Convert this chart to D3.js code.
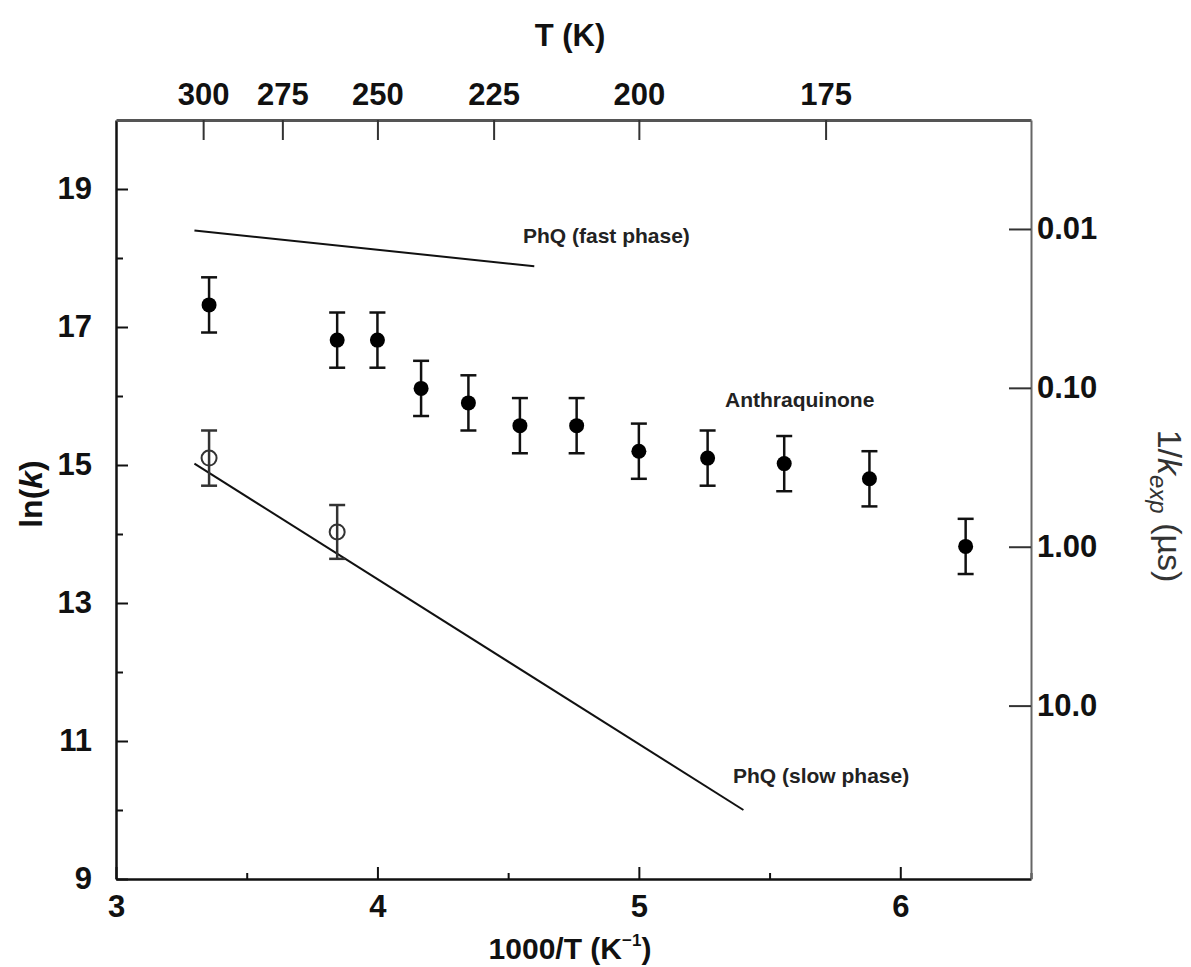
<!DOCTYPE html>
<html>
<head>
<meta charset="utf-8">
<script src="https://cdn.jsdelivr.net/npm/d3@7/dist/d3.min.js"></script>
<style>
  body { margin: 0; background: #fff; }
  svg { font-family: "Liberation Sans", Arial, Helvetica, sans-serif; }
</style>
</head>
<body>
<div id="grafico"></div>
<script>
// Datos
// Antraquinona (círculos rellenos)
const antraX = [3.356, 3.846, 4.0, 4.167, 4.348, 4.545, 4.762, 5.0, 5.263, 5.556, 5.882, 6.25];
const antraY = [17.32, 16.81, 16.81, 16.11, 15.9, 15.57, 15.57, 15.2, 15.1, 15.02, 14.8, 13.82];
const antraErr = [0.4, 0.4, 0.4, 0.4, 0.4, 0.4, 0.4, 0.4, 0.4, 0.4, 0.4, 0.4];

// PhQ (círculos abiertos)
const phqX = [3.356, 3.846];
const phqY = [15.1, 14.03];
const phqErr = [0.4, 0.39];

// Rectas de ajuste de PhQ
const rapidaX = [3.3, 4.6];
const rapidaY = [18.4, 17.88];
const lentaX = [3.3, 5.4];
const lentaY = [15.02, 10.0];

// Marcas de los ejes
const ticksInferior = [3, 4, 5, 6];
const ticksInferiorMenor = [3.5, 4.5, 5.5, 6.5];
const ticksIzq = [9, 11, 13, 15, 17, 19];
const ticksIzqMenor = [10, 12, 14, 16, 18];
const ticksT = [300, 275, 250, 225, 200, 175];
const ticksTau = [0.01, 0.1, 1, 10];
const etiquetasTau = ["0.01", "0.10", "1.00", "10.0"];

const ancho = 1191, alto = 967;
const margen = { izq: 116, der: 1031, sup: 120, inf: 879 };

const svg = d3.select("#grafico").append("svg")
  .attr("width", ancho)
  .attr("height", alto);

const x = d3.scaleLinear().domain([3, 6.5]).range([margen.izq, margen.der]);
const y = d3.scaleLinear().domain([9, 20]).range([margen.inf, margen.sup]);
// eje derecho: 1/k en µs, ln(k) = ln(1e6 / tau)
const tau = d3.scaleLog()
  .domain([1e6 / Math.exp(9), 1e6 / Math.exp(20)])
  .range([margen.inf, margen.sup]);

function estiloEje(g, tam, grosor, color) {
  g.select(".domain").attr("stroke", color).attr("stroke-width", grosor);
  g.selectAll(".tick line").attr("stroke", color).attr("stroke-width", 2);
  g.selectAll(".tick text")
    .attr("font-size", tam)
    .attr("font-weight", "bold")
    .attr("fill", "#111");
}

// Eje inferior
const gInf = svg.append("g")
  .attr("transform", `translate(0,${margen.inf})`)
  .call(d3.axisBottom(x).tickValues(ticksInferior).tickFormat(d3.format("d"))
    .tickSizeInner(-12).tickSizeOuter(0).tickPadding(16));
estiloEje(gInf, 31, 2.5, "#111");

svg.append("g")
  .attr("transform", `translate(0,${margen.inf})`)
  .call(d3.axisBottom(x).tickValues(ticksInferiorMenor).tickFormat("")
    .tickSizeInner(-6).tickSizeOuter(0))
  .call(g => g.select(".domain").remove())
  .call(g => g.selectAll(".tick line").attr("stroke", "#111").attr("stroke-width", 2));

// Eje izquierdo
const gIzq = svg.append("g")
  .attr("transform", `translate(${margen.izq},0)`)
  .call(d3.axisLeft(y).tickValues(ticksIzq).tickFormat(d3.format("d"))
    .tickSizeInner(-12).tickSizeOuter(0).tickPadding(24));
estiloEje(gIzq, 31, 2.5, "#111");

svg.append("g")
  .attr("transform", `translate(${margen.izq},0)`)
  .call(d3.axisLeft(y).tickValues(ticksIzqMenor).tickFormat("")
    .tickSizeInner(-7).tickSizeOuter(0))
  .call(g => g.select(".domain").remove())
  .call(g => g.selectAll(".tick line").attr("stroke", "#111").attr("stroke-width", 2));

// Eje superior (temperatura)
const gSup = svg.append("g")
  .attr("transform", `translate(0,${margen.sup})`)
  .call(d3.axisTop(x).tickValues(ticksT.map(t => 1000 / t))
    .tickFormat(d => Math.round(1000 / d))
    .tickSizeInner(-20).tickSizeOuter(0).tickPadding(15));
estiloEje(gSup, 31, 3, "#555");
gSup.selectAll(".tick line").attr("stroke", "#333");

// Eje derecho (1/k)
const gDer = svg.append("g")
  .attr("transform", `translate(${margen.der},0)`)
  .call(d3.axisRight(tau).tickValues(ticksTau)
    .tickFormat((d, i) => etiquetasTau[i])
    .tickSizeInner(-22).tickSizeOuter(0).tickPadding(6));
estiloEje(gDer, 31, 2, "#666");
gDer.selectAll(".tick line").attr("stroke", "#333");

// Títulos de los ejes
svg.append("text")
  .attr("x", 570).attr("y", 46)
  .attr("text-anchor", "middle")
  .attr("font-size", 31).attr("font-weight", "bold").attr("fill", "#111")
  .text("T (K)");

const tituloX = svg.append("text")
  .attr("x", 570).attr("y", 959)
  .attr("text-anchor", "middle")
  .attr("font-size", 30).attr("font-weight", "bold").attr("fill", "#111");
tituloX.append("tspan").text("1000/T (K");
tituloX.append("tspan").attr("font-size", 17).attr("dy", -13).text("−1");
tituloX.append("tspan").attr("dy", 13).text(")");

const tituloIzq = svg.append("text")
  .attr("transform", "translate(42,494) rotate(-90)")
  .attr("text-anchor", "middle")
  .attr("font-size", 32).attr("font-weight", "bold").attr("fill", "#111");
tituloIzq.append("tspan").text("ln(");
tituloIzq.append("tspan").attr("font-style", "italic").text("k");
tituloIzq.append("tspan").text(")");

const tituloDer = svg.append("text")
  .attr("transform", "translate(1158,506) rotate(90)")
  .attr("text-anchor", "middle")
  .attr("font-size", 34).attr("fill", "#333");
tituloDer.append("tspan").text("1/");
tituloDer.append("tspan").attr("font-style", "italic").text("k");
tituloDer.append("tspan").attr("font-style", "italic").attr("font-size", 24).attr("dy", 8).text("exp");
tituloDer.append("tspan").attr("dy", -8).text(" (µs)");

// Rectas de PhQ
const linea = d3.line().x(d => x(d[0])).y(d => y(d[1]));
svg.append("path")
  .datum(d3.zip(rapidaX, rapidaY))
  .attr("d", linea)
  .attr("fill", "none").attr("stroke", "#111").attr("stroke-width", 2);
svg.append("path")
  .datum(d3.zip(lentaX, lentaY))
  .attr("d", linea)
  .attr("fill", "none").attr("stroke", "#111").attr("stroke-width", 2);

// Barras de error
function dibujarErrores(xs, ys, errs, color) {
  const g = svg.append("g").attr("stroke", color).attr("stroke-width", 2.5);
  xs.forEach((v, i) => {
    const cx = x(v);
    const y1 = y(ys[i] + errs[i]);
    const y2 = y(ys[i] - errs[i]);
    g.append("line").attr("x1", cx).attr("x2", cx).attr("y1", y1).attr("y2", y2);
    g.append("line").attr("x1", cx - 8).attr("x2", cx + 8).attr("y1", y1).attr("y2", y1);
    g.append("line").attr("x1", cx - 8).attr("x2", cx + 8).attr("y1", y2).attr("y2", y2);
  });
}
dibujarErrores(antraX, antraY, antraErr, "#111");
dibujarErrores(phqX, phqY, phqErr, "#333");

// Puntos
svg.append("g").selectAll("circle")
  .data(d3.zip(antraX, antraY))
  .join("circle")
  .attr("cx", d => x(d[0])).attr("cy", d => y(d[1]))
  .attr("r", 7.5).attr("fill", "#000");

svg.append("g").selectAll("circle")
  .data(d3.zip(phqX, phqY))
  .join("circle")
  .attr("cx", d => x(d[0])).attr("cy", d => y(d[1]))
  .attr("r", 7.5).attr("fill", "none").attr("stroke", "#333").attr("stroke-width", 2);

// Etiquetas de las series
const etiquetas = [
  { texto: "PhQ (fast phase)", x: 523, y: 243 },
  { texto: "Anthraquinone", x: 725, y: 407 },
  { texto: "PhQ (slow phase)", x: 733, y: 783 }
];
svg.append("g").selectAll("text")
  .data(etiquetas)
  .join("text")
  .attr("x", d => d.x).attr("y", d => d.y)
  .attr("font-size", 21).attr("font-weight", "bold").attr("fill", "#222")
  .text(d => d.texto);
</script>
</body>
</html>
